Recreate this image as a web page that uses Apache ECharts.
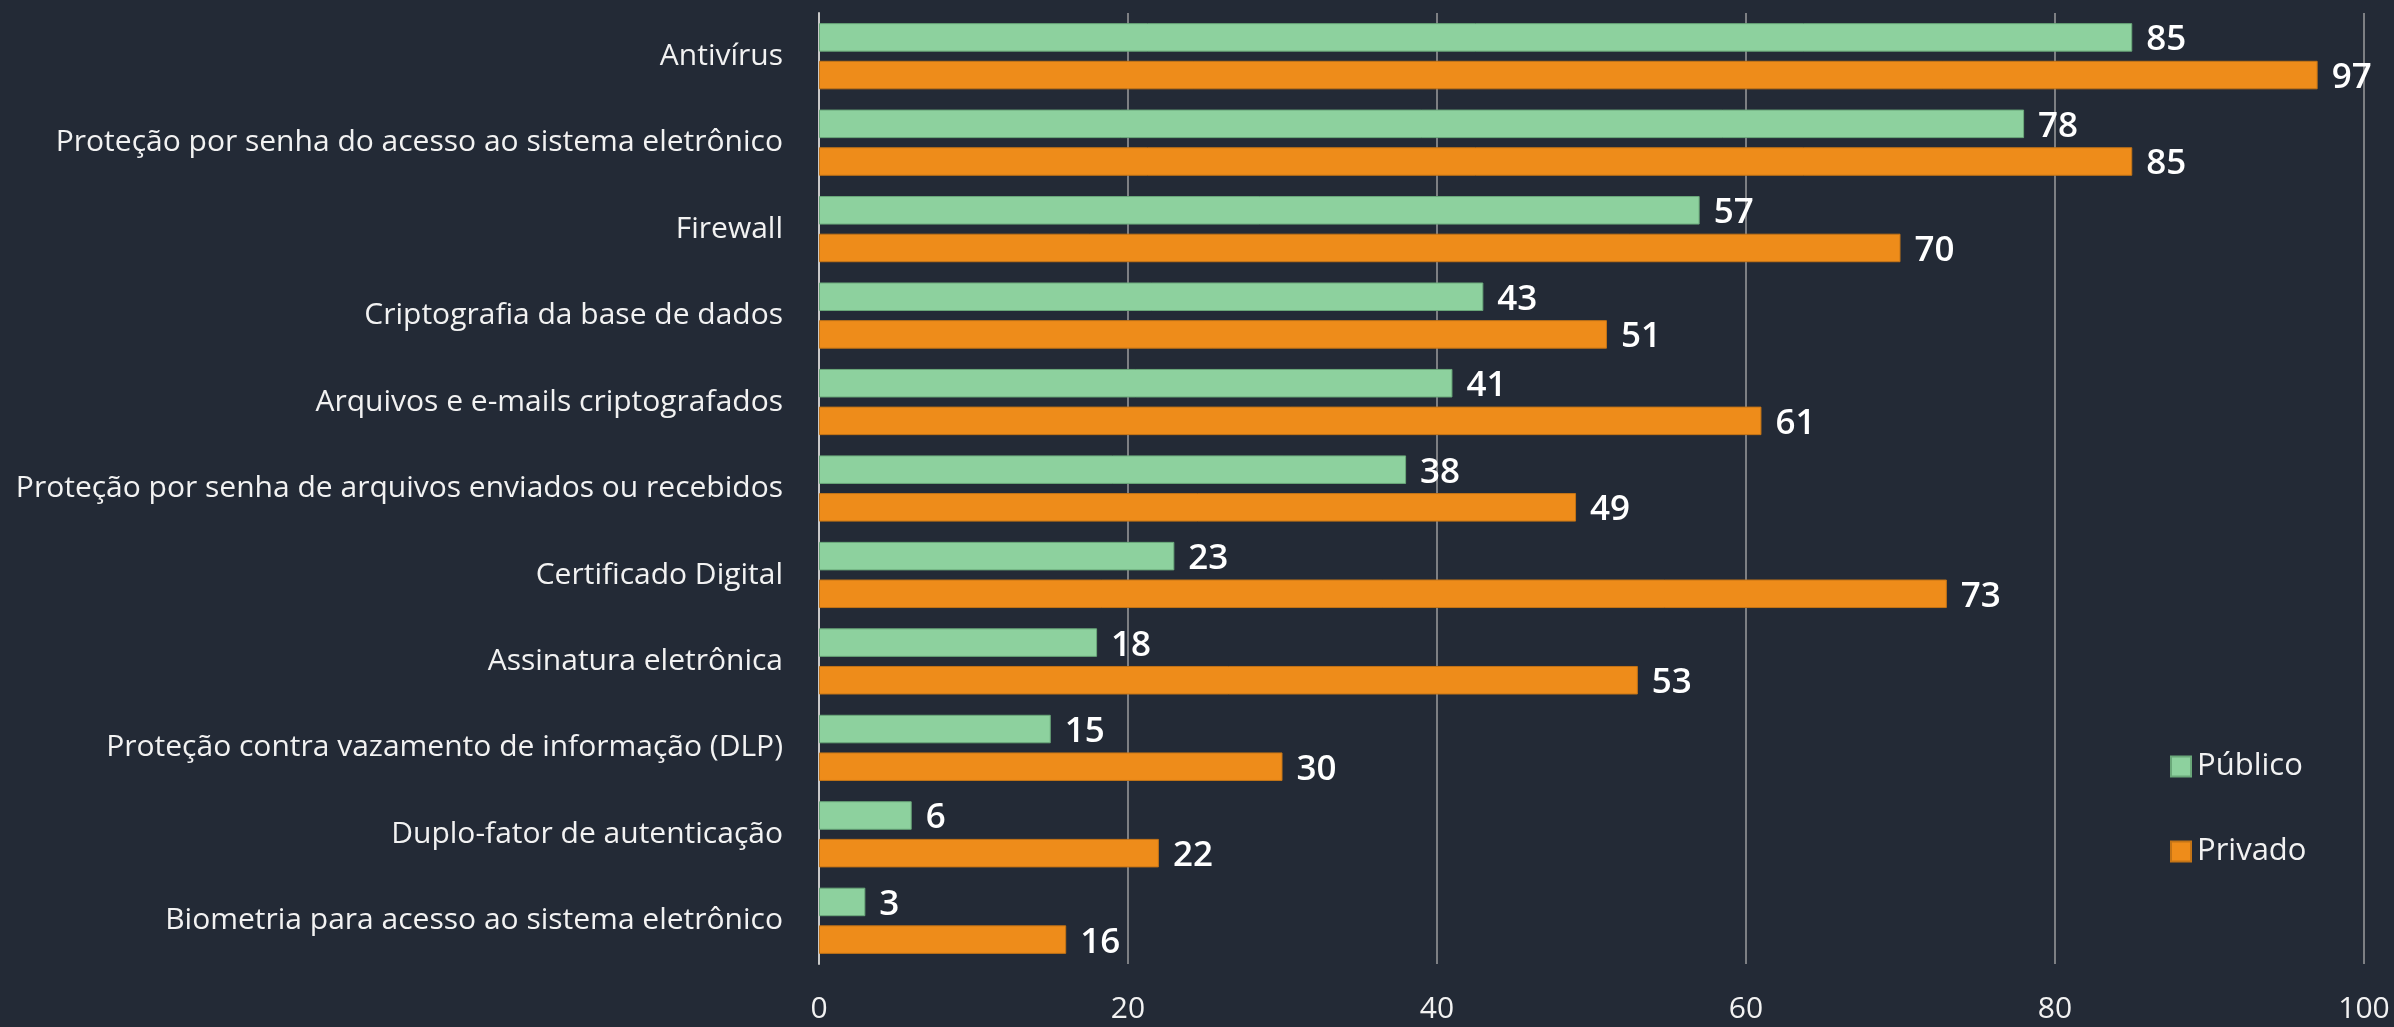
<!DOCTYPE html>
<html>
<head>
<meta charset="utf-8">
<script src="https://cdn.jsdelivr.net/npm/echarts@6/dist/echarts.min.js"></script>
<style>
  html, body { margin: 0; padding: 0; background: #232a36; }
  #chart { width: 2394px; height: 1027px; }
</style>
</head>
<body>
<div id="chart"></div>
<script>
const categories = [
  'Antivírus',
  'Proteção por senha do acesso ao sistema eletrônico',
  'Firewall',
  'Criptografia da base de dados',
  'Arquivos e e-mails criptografados',
  'Proteção por senha de arquivos enviados ou recebidos',
  'Certificado Digital',
  'Assinatura eletrônica',
  'Proteção contra vazamento de informação (DLP)',
  'Duplo-fator de autenticação',
  'Biometria para acesso ao sistema eletrônico'
]
const publico = [85, 78, 57, 43, 41, 38, 23, 18, 15, 6, 3]
const privado = [97, 85, 70, 51, 61, 49, 73, 53, 30, 22, 16]

const fontFamily = '"Open Sans", "Noto Sans", sans-serif'
const textColor = '#f2f2f2'

const chart = echarts.init(document.getElementById('chart'))

function barSeries(name, data, color, border) {
  return {
    name: name,
    type: 'bar',
    data: data,
    barWidth: '33%',
    barGap: '32%',
    itemStyle: { color: color, borderColor: border, borderWidth: 1 },
    label: {
      show: true,
      position: 'right',
      distance: 14,
      offset: [0, 3],
      color: '#ffffff',
      fontFamily: fontFamily,
      fontWeight: 600,
      fontSize: 35
    },
    animation: false
  }
}

chart.setOption({
  backgroundColor: '#232a36',
  grid: {
    left: 819,
    right: 30,
    top: 13,
    bottom: 63
  },
  legend: {
    orient: 'vertical',
    left: 2165,
    top: 746,
    itemWidth: 20,
    itemHeight: 20,
    itemGap: 54,
    icon: 'rect',
    textStyle: { color: textColor, fontFamily: fontFamily, fontSize: 31, padding: [0, 0, 0, 1] },
    data: ['Público', 'Privado']
  },
  xAxis: {
    type: 'value',
    min: 0,
    max: 100,
    interval: 20,
    axisLine: { show: false },
    axisTick: { show: false },
    splitLine: { lineStyle: { color: '#7d7f83', width: 2 } },
    axisLabel: {
      color: textColor,
      fontFamily: fontFamily,
      fontSize: 30,
      margin: 30
    }
  },
  yAxis: {
    type: 'category',
    inverse: true,
    data: categories,
    axisLine: { show: true, lineStyle: { color: '#c8c8c8', width: 2 } },
    axisTick: { show: false },
    axisLabel: {
      color: textColor,
      fontFamily: fontFamily,
      fontSize: 30,
      margin: 36
    }
  },
  series: [
    barSeries('Público', publico, '#8dd19e', '#6aa87a'),
    barSeries('Privado', privado, '#ee8c1a', '#c47416')
  ]
})
</script>
</body>
</html>
